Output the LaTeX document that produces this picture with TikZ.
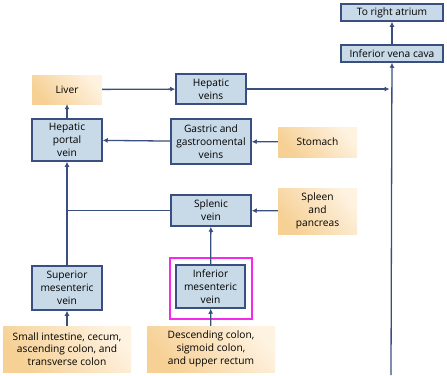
\documentclass[tikz,border=0pt]{standalone}
\usepackage{fontspec}
\setmainfont{Open Sans}
\usetikzlibrary{arrows.meta, positioning, calc}
\definecolor{veinfill}{RGB}{200, 218, 232}
\definecolor{veinedge}{RGB}{58, 78, 128}
\definecolor{orgdeep}{RGB}{246, 208, 148}
\definecolor{orglight}{RGB}{254, 242, 224}
\definecolor{hilite}{RGB}{245, 40, 235}
\tikzset{
    vein/.style  ={draw=veinedge, line width=1.5pt, fill=veinfill,
                   align=center, font=\fontsize{10.2}{12.8}\selectfont, inner sep=1pt},
    organ/.style ={top color=orglight, bottom color=orgdeep, shading angle=-50,
                   align=center, font=\fontsize{10.2}{12.8}\selectfont, inner sep=1pt},
    hibox/.style ={draw=hilite, line width=1.6pt},
    ar/.style    ={-{Latex[length=5pt, width=5pt]}, line width=1.3pt, draw=veinedge},
    ln/.style    ={line width=1.3pt, draw=veinedge}
}

\begin{document}
\begin{tikzpicture}[x=1pt, y=-1pt]
  \useasboundingbox (0,0) rectangle (447,375);
  % outflow
  \node[vein, minimum width=102, minimum height=17] (rta) at (392,12.5) {To right atrium};
  \node[vein, minimum width=102, minimum height=17] (ivc) at (392,53.5) {Inferior vena cava};
  \coordinate (trunk) at (391,375);
  % liver row
  \node[organ, minimum width=70, minimum height=29] (liver) at (67,89.5) {Liver};
  \node[vein, minimum width=70, minimum height=30] (hepv) at (211,89) {Hepatic\\veins};
  % portal row
  \node[vein, minimum width=70, minimum height=42] (hpv) at (67,140) {Hepatic\\portal\\vein};
  \node[vein, minimum width=80, minimum height=45] (gastric) at (211,141.5) {Gastric and\\gastroomental\\veins};
  \node[organ, minimum width=79, minimum height=30] (stomach) at (317.5,142) {Stomach};
  % splenic row
  \node[vein, minimum width=80, minimum height=31] (splenic) at (211,210.5) {Splenic\\vein};
  \node[organ, minimum width=79, minimum height=46] (spleen) at (317.5,211) {Spleen\\and\\pancreas};
  % mesenteric row
  \node[vein, minimum width=70, minimum height=44] (smv) at (67,288) {Superior\\mesenteric\\vein};
  \node[vein, minimum width=69, minimum height=43] (imv) at (210.5,286.5) {Inferior\\mesenteric\\vein};
  \node[hibox, minimum width=82, minimum height=61] (mark) at (211,288.5) {};
  % drained organs
  \node[organ, minimum width=128, minimum height=46] (smint) at (67,349) {Small intestine, cecum,\\ascending colon, and\\transverse colon};
  \node[organ, minimum width=128, minimum height=46] (desc) at (211,349) {Descending colon,\\sigmoid colon,\\and upper rectum};

  % connectors
  \draw[ar] (ivc) -- (rta);
  \draw[ar] (trunk) -- (ivc);
  \draw[ar, shorten >=1.5pt] (hepv.east) -- (hepv.east -| trunk);
  \draw[ar] (liver) -- (hepv);
  \draw[ar] (hpv) -- (liver);
  \draw[ar] (gastric) -- (hpv);
  \draw[ar] (stomach) -- (gastric);
  \draw[ar] (spleen) -- (splenic);
  \draw[ln] (splenic.west) -- (splenic.west -| hpv.south);
  \draw[ar] (smv) -- (hpv);
  \draw[ar] (imv) -- (splenic);
  \draw[ar] (smint) -- (smv);
  \draw[ar] (desc) -- (imv);
\end{tikzpicture}
\end{document}
